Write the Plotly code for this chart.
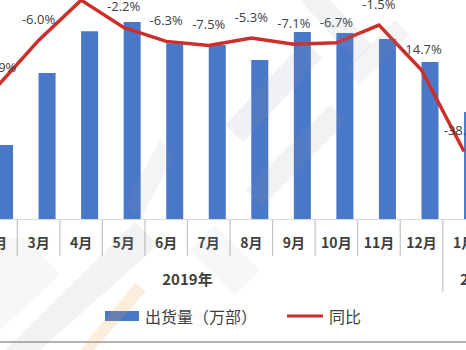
import plotly.graph_objects as go

# Monthly shipments (万部) and year-on-year change (%)
months = ["2月", "3月", "4月", "5月", "6月", "7月", "8月", "9月", "10月", "11月", "12月", "1月"]
month_pos = [1, 2, 3, 4, 5, 6, 7, 8, 9, 10, 11, 12]          # 0 = 2019年1月
shipments = [1445, 2840, 3650, 3830, 3420, 3385, 3095, 3635, 3620, 3500, 3055, 2085]
yoy = [-19.9, -6.0, 5.8, -2.2, -6.3, -7.5, -5.3, -7.1, -6.7, -1.5, -14.7, -38.6]
years = ["2019年", "2020年"]
year_pos = [5.5, 12.5]

W, H = 466, 350
X_RANGE = [1.094, 12.046]
Y_RANGE = [-2532, 4258]       # shipments axis
Y2_RANGE = [-96.8, 5.84]      # yoy axis

BLUE = "#4a78c8"
RED = "#cc2f2a"
GREY_TXT = "#404040"
LINE_GREY = "#c4c4c4"


def y_at_px(py):
    lo, hi = Y_RANGE
    return hi - py / H * (hi - lo)


def xpaper(px):
    return px / W


def ypaper(py):
    return 1 - py / H


def poly(points, color, opacity):
    """Closed paper-space polygon from pixel points."""
    d = "M " + " L ".join(f"{xpaper(x):.4f},{ypaper(y):.4f}" for x, y in points) + " Z"
    return dict(type="path", xref="paper", yref="paper", path=d,
                fillcolor=color, opacity=opacity, line=dict(width=0), layer="above")


fig = go.Figure()

fig.add_trace(go.Bar(
    x=month_pos, y=shipments, width=0.4, offset=0,
    marker=dict(color=BLUE, line=dict(width=0)),
    name="出货量（万部）", yaxis="y",
))

fig.add_trace(go.Scatter(
    x=month_pos, y=yoy, mode="lines",
    line=dict(color=RED, width=3.5),
    name="同比", yaxis="y2",
))

# value labels above the yoy line
fig.add_trace(go.Scatter(
    x=month_pos, y=yoy, mode="markers+text",
    marker=dict(size=19, color="rgba(0,0,0,0)"),
    text=[f"{v:.1f}%" for v in yoy], textposition="top center",
    textfont=dict(family="Open Sans, Liberation Sans, sans-serif", size=13, color=GREY_TXT),
    yaxis="y2", showlegend=False, hoverinfo="skip",
))

# month labels under the axis
fig.add_trace(go.Scatter(
    x=month_pos, y=[y_at_px(244)] * len(month_pos), mode="text",
    text=months, textposition="middle center",
    textfont=dict(family="Noto Sans CJK SC", size=14, color=GREY_TXT, weight="bold"),
    yaxis="y", showlegend=False, hoverinfo="skip",
))

# year labels
fig.add_trace(go.Scatter(
    x=year_pos, y=[y_at_px(281)] * len(year_pos), mode="text",
    text=years, textposition="middle center",
    textfont=dict(family="Noto Sans CJK SC", size=15, color=GREY_TXT, weight="bold"),
    yaxis="y", showlegend=False, hoverinfo="skip",
))

shapes = []
# category axis baseline
shapes.append(dict(type="line", xref="paper", x0=0, x1=1, yref="y", y0=0, y1=0,
                   line=dict(color="#d9d9d9", width=1)))
# dividers between month labels; the year boundary runs deeper
for b in [p + 0.5 for p in [0] + month_pos]:
    bottom = 292 if b in (0.5, 11.5) else 256
    shapes.append(dict(type="line", xref="x", x0=b, x1=b, yref="y",
                       y0=y_at_px(220), y1=y_at_px(bottom),
                       line=dict(color=LINE_GREY, width=1.2)))

# legend
shapes.append(dict(type="rect", xref="paper", yref="paper",
                   x0=xpaper(105), x1=xpaper(139), y0=ypaper(321), y1=ypaper(311),
                   fillcolor=BLUE, line=dict(width=0)))
shapes.append(dict(type="line", xref="paper", yref="paper",
                   x0=xpaper(287), x1=xpaper(323), y0=ypaper(316), y1=ypaper(316),
                   line=dict(color=RED, width=3)))
# bottom rule
shapes.append(dict(type="line", xref="paper", yref="paper",
                   x0=0, x1=1, y0=ypaper(342), y1=ypaper(342),
                   line=dict(color="#9a9a9a", width=1.5)))

# faint logo watermark
WM = "#8c93a8"
shapes += [
    poly([(135, 222), (158, 245), (40, 350), (5, 350)], WM, 0.12),
    poly([(0, 238), (25, 238), (60, 275), (0, 330)], WM, 0.08),
    poly([(135, 283), (146, 291), (94, 350), (80, 350)], "#f0a040", 0.18),
    poly([(225, 125), (305, 40), (322, 58), (243, 142)], WM, 0.13),
    poly([(245, 190), (330, 105), (346, 122), (262, 207)], WM, 0.12),
    poly([(300, 0), (330, 0), (372, 45), (355, 62)], WM, 0.12),
    poly([(345, 70), (395, 20), (410, 35), (360, 85)], WM, 0.10),
    poly([(160, 140), (175, 155), (140, 220), (125, 205)], WM, 0.10),
    poly([(190, 250), (215, 225), (260, 270), (235, 295)], WM, 0.08),
]

annotations = [
    dict(xref="paper", yref="paper", x=xpaper(143), y=ypaper(316), xanchor="left", yanchor="middle",
         text="出货量（万部）", showarrow=False,
         font=dict(family="Noto Sans CJK SC", size=16, color=GREY_TXT)),
    dict(xref="paper", yref="paper", x=xpaper(327), y=ypaper(316), xanchor="left", yanchor="middle",
         text="同比", showarrow=False,
         font=dict(family="Noto Sans CJK SC", size=16, color=GREY_TXT)),
]

fig.update_layout(
    width=W, height=H,
    margin=dict(l=0, r=0, t=0, b=0),
    paper_bgcolor="white", plot_bgcolor="white",
    showlegend=False,
    xaxis=dict(range=X_RANGE, domain=[0, 1], showgrid=False, zeroline=False,
               showticklabels=False, ticks=""),
    yaxis=dict(range=Y_RANGE, domain=[0, 1], showgrid=False, zeroline=False,
               showticklabels=False, ticks=""),
    yaxis2=dict(range=Y2_RANGE, overlaying="y", side="right", showgrid=False,
                zeroline=False, showticklabels=False, ticks=""),
    shapes=shapes,
    annotations=annotations,
)

fig.write_html("out.html")
